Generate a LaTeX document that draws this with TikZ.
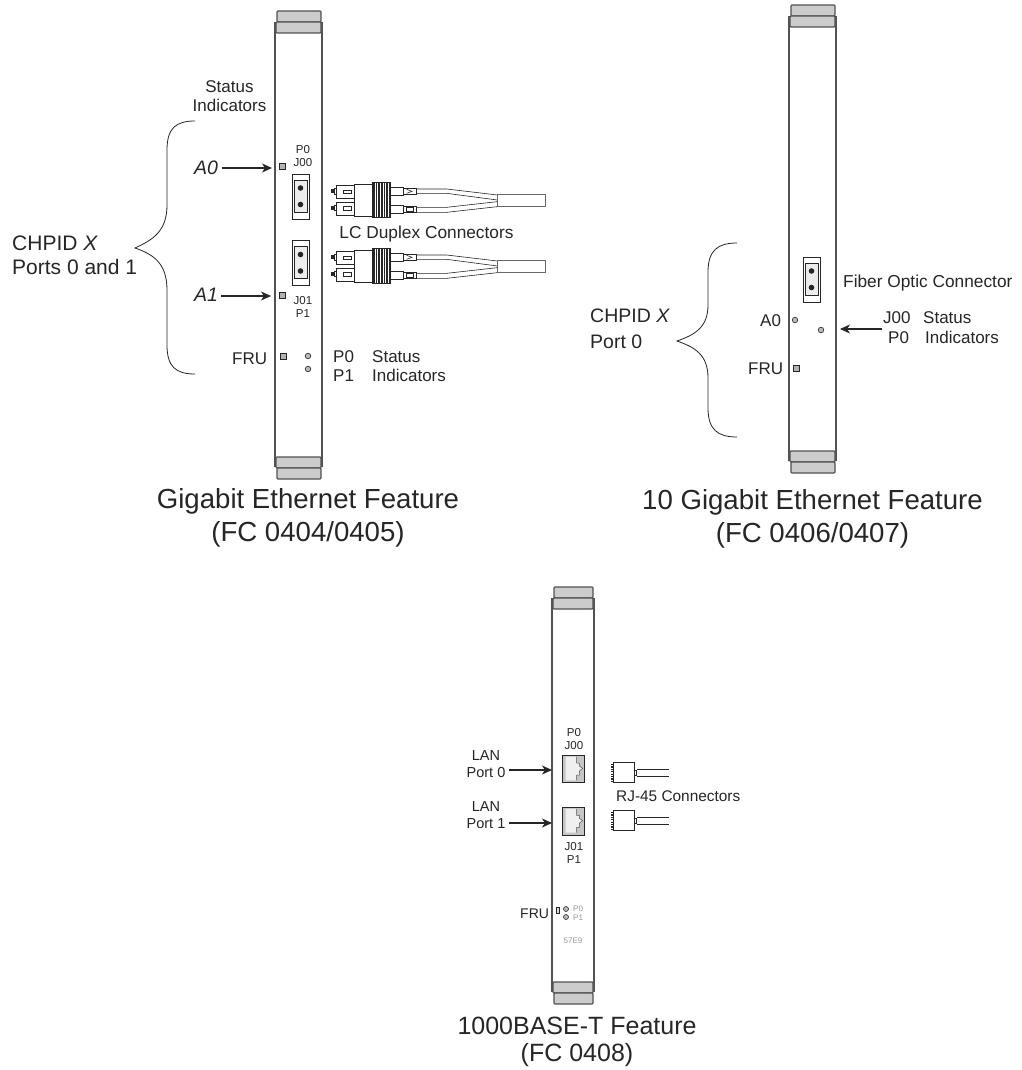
\documentclass[tikz,border=0pt]{standalone}
\usepackage{fontspec}
\setmainfont{Liberation Sans}
\usetikzlibrary{arrows.meta}
\definecolor{tabgrey}{gray}{0.8}
\definecolor{ink}{gray}{0.15}
\definecolor{faint}{gray}{0.6}
\tikzset{
  lab/.style={inner sep=0pt,text=ink,align=center,font=\fontsize{17}{19}\selectfont},
  labw/.style={lab,anchor=mid west,yshift=-3.5pt},
  big/.style={inner sep=0pt,text=ink,align=center,font=\fontsize{27.6}{33}\selectfont},
  bigb/.style={inner sep=0pt,text=ink,align=center,font=\fontsize{25}{27}\selectfont},
  tiny/.style={inner sep=0pt,text=ink,align=center,font=\fontsize{11.5}{13}\selectfont},
  wee/.style={inner sep=0pt,text=faint,font=\fontsize{8}{9}\selectfont},
  arrowline/.style={draw=ink,line width=1.1pt,-{Stealth[length=10pt,width=9pt,inset=3pt]}},
  brace/.style={draw=ink,line width=0.8pt},
  sq/.style={draw=ink,fill=gray!60,line width=0.6pt},
  led/.style={draw=ink,fill=gray!55,line width=0.6pt},
  cardline/.style={draw=ink!80,line width=1.3pt},
  tabbox/.style={draw=ink!80,fill=tabgrey,line width=1.2pt,rounded corners=1pt},
  fibre/.style={draw=ink,line width=0.6pt},
  fibrebox/.style={draw=ink,fill=white,line width=0.7pt},
  lc/.pic={
    \begin{scope}[x=0.3333pt,y=-0.3333pt]
      \foreach \d in {0,50}{
        \fill[ink] (184,178+\d) rectangle (192,190+\d);
        \draw[fibrebox] (192,176+\d) rectangle (198,192+\d);
        \draw[fibrebox] (198,166+\d) rectangle (254,205+\d);
        \draw[fibrebox] (220,180+\d) rectangle (245,190+\d);
      }
      \draw[fibrebox] (254,163) rectangle (308,260);
      \draw[fibrebox,fill=ink] (308,157) rectangle (360,263);
      \foreach \xx in {314,322,330,338,346,354}{\draw[white,line width=0.3pt] (\xx,160) -- (\xx,260);}
      \draw[fibrebox] (362,172) rectangle (400,195);
      \draw[fibrebox] (362,226) rectangle (400,250);
      \draw[fibrebox] (400,175) rectangle (440,192);
      \draw[fibrebox] (400,230) rectangle (440,247);
      \draw[fibre] (410,178) -- (426,184) -- (410,190);
      \draw[fibre] (410,233) rectangle (430,244);
      \draw[fibre] (440,177) -- (530,177) -- (682,195);
      \draw[fibre] (440,190) -- (530,190) -- (682,210);
      \draw[fibre] (440,232) -- (530,232) -- (682,215);
      \draw[fibre] (440,247) -- (530,247) -- (682,230);
      \draw[fibrebox,draw=ink!70] (682,194) rectangle (826,230);
    \end{scope}
  },
  duplex/.pic={
    \begin{scope}[x=1pt,y=-1pt]
      \draw[ink,fill=white,line width=0.8pt] (0,0) rectangle (17,45);
      \draw[ink,fill=gray!15,line width=1pt] (2,6) rectangle (15,38);
      \fill[ink] (8.5,14) circle (2.8pt) (8.5,30.5) circle (2.8pt);
    \end{scope}
  },
  jack/.pic={
    \begin{scope}[x=0.3333pt,y=-0.3333pt]
      \draw[ink,fill=gray!45,line width=0.8pt] (0,0) rectangle (64,83);
      \fill[gray!12] (9,5) -- (42,5) -- (42,24) -- (50,24) -- (50,33) -- (60,40) -- (50,48) -- (50,60) -- (42,60) -- (42,76) -- (9,76) -- cycle;
      \draw[ink!80,line width=0.5pt] (42,5) -- (42,24) -- (50,24) -- (50,33) -- (60,40) -- (50,48) -- (50,60) -- (42,60) -- (42,76);
    \end{scope}
  },
  plug/.pic={
    \begin{scope}[x=0.3333pt,y=-0.3333pt]
      \draw[ink,line width=0.7pt] (290,148) -- (388,148) (290,168) -- (388,168);
      \draw[fibrebox,line width=0.9pt] (220,127) rectangle (282,188);
      \draw[fibrebox] (282,150) rectangle (290,165);
      \draw[ink,line width=2pt,dash pattern=on 1.2pt off 1.2pt] (216,132) -- (216,186);
    \end{scope}
  },
}
\newcommand{\cardbody}[5]{%
  \draw[cardline] (#1,#4) -- (#1,#5) (#2,#4) -- (#2,#5);
  \draw[tabbox] (#1+2,#3) rectangle (#2-1,#3+11);
  \draw[tabbox] (#1+1,#3+11) rectangle (#2-1,#3+22);
  \draw[tabbox] (#1+1,#5-10) rectangle (#2-1,#5+1);
  \draw[tabbox] (#1+2,#5+1) rectangle (#2-1,#5+12);
}
\begin{document}
\begin{tikzpicture}[x=1pt,y=-1pt]
\useasboundingbox (0,0) rectangle (1021,1070);
\fill[white] (0,0) rectangle (1021,1070);

% ---------- Gigabit Ethernet card ----------
\cardbody{275}{322}{11}{22}{467}
\draw[sq] (279,163) rectangle (285,169);
\draw[sq] (279,292) rectangle (285,298);
\draw[sq] (280,353) rectangle (286,359);
\draw[led] (308,356) circle (2.8pt);
\draw[led] (308,369) circle (2.8pt);
\pic at (292,174) {duplex};
\pic at (292,240.5) {duplex};
\node[tiny] (p0a) at (303,156.5) {P0\\J00};
\node[tiny] (j01a) at (303,306.5) {J01\\P1};
\pic at (270,130) {lc};
\pic at (270,196) {lc};
\node[lab,font=\fontsize{17.3}{19}\selectfont] (lcd) at (426.5,234) {LC Duplex Connectors};
\node[lab] (stat) at (229.5,96.5) {Status\\Indicators};
\node[lab,anchor=west,align=left,font=\fontsize{21}{24}\selectfont] (chpa) at (12,255) {CHPID \textit{X}\\Ports 0 and 1};
\node[labw,font=\fontsize{19.5}{20}\selectfont\itshape] (a0) at (194,168) {A0};
\node[labw,font=\fontsize{19.5}{20}\selectfont\itshape] (a1) at (194,295) {A1};
\node[labw] (frua) at (232,358) {FRU};
\node[labw] (p0s) at (333,356) {P0};
\node[labw] (st1) at (372,356) {Status};
\node[labw] (p1s) at (333,375) {P1};
\node[labw] (st2) at (372,375) {Indicators};
\coordinate (a0s) at (222,168);
\coordinate (a1s) at (221,296);
\coordinate (a0t) at (272,168);
\coordinate (a1t) at (271,296);
\draw[arrowline] (a0s) -- (a0t);
\draw[arrowline] (a1s) -- (a1t);
\draw[brace] (195,121) .. controls (176,121) and (167,128) .. (167,150) -- (167,205)
   .. controls (167,232) and (152,240) .. (135,248)
   .. controls (152,254) and (167,262) .. (167,290) -- (167,345)
   .. controls (167,367) and (176,374) .. (195,374);
\node[big] (t1) at (308,517.5) {Gigabit Ethernet Feature\\(FC 0404/0405)};

% ---------- 10 Gigabit Ethernet card ----------
\cardbody{789}{836}{5}{16}{461}
\pic at (803,257) {duplex};
\draw[led] (795,320) circle (2.8pt);
\draw[led] (821,330) circle (2.8pt);
\draw[sq] (793,365) rectangle (799,371);
\node[labw,font=\fontsize{17.3}{19}\selectfont] (foc) at (843,281) {Fiber Optic Connector};
\node[labw] (a0r) at (760,320) {A0};
\node[labw] (frur) at (748,368) {FRU};
\node[labw] (j00r) at (883,317) {J00};
\node[labw] (stt) at (923,317) {Status};
\node[labw] (p0r) at (888,337) {P0};
\node[labw] (ind) at (925,337) {Indicators};
\node[lab,anchor=west,align=left,font=\fontsize{19.5}{26}\selectfont] (chpr) at (590,329) {CHPID \textit{X}\\Port 0};
\coordinate (arrow2) at (840,329);
\coordinate (arrow2s) at (882,329);
\draw[arrowline] (arrow2s) -- (arrow2);
\draw[brace] (737,243) .. controls (718,243) and (708,250) .. (708,272) -- (708,305)
   .. controls (708,328) and (694,335) .. (677,341)
   .. controls (694,347) and (708,354) .. (708,378) -- (708,408)
   .. controls (708,430) and (718,437) .. (737,437);
\node[big] (t2) at (812.5,518.5) {10 Gigabit Ethernet Feature\\(FC 0406/0407)};

% ---------- 1000BASE-T card ----------
\cardbody{552}{594}{587}{598}{992}
\pic at (562.7,755) {jack};
\pic at (562.7,807.3) {jack};
\pic at (540,720) {plug};
\pic at (540,768) {plug};
\node[tiny] (p0c) at (574,739) {P0\\J00};
\node[tiny] (j01c) at (574,853) {J01\\P1};
\node[lab,font=\fontsize{14.5}{16.5}\selectfont] (lan0) at (486,764) {LAN\\Port 0};
\node[lab,font=\fontsize{14.5}{16.5}\selectfont] (lan1) at (486,815) {LAN\\Port 1};
\coordinate (l0t) at (552,770);
\coordinate (l1t) at (552,823);
\coordinate (l0s) at (509,770);
\coordinate (l1s) at (509,823);
\draw[arrowline] (l0s) -- (l0t);
\draw[arrowline] (l1s) -- (l1t);
\node[labw,font=\fontsize{15.4}{17}\selectfont] (rj) at (616,795) {RJ-45 Connectors};
\node[labw,font=\fontsize{14}{17}\selectfont] (fruc) at (520,912) {FRU};
\draw[sq,fill=gray!30,line width=0.8pt] (556,907) rectangle (559,913);
\draw[led] (566,909) circle (2.5pt);
\draw[led] (566,917) circle (2.5pt);
\node[wee,anchor=mid west] (p0w) at (573,909) {P0};
\node[wee,anchor=mid west] (p1w) at (573,918) {P1};
\node[wee] (e9) at (573,941) {57E9};
\node[bigb] (t3) at (577,1041.5) {1000BASE-T Feature\\(FC 0408)};
\end{tikzpicture}
\end{document}
